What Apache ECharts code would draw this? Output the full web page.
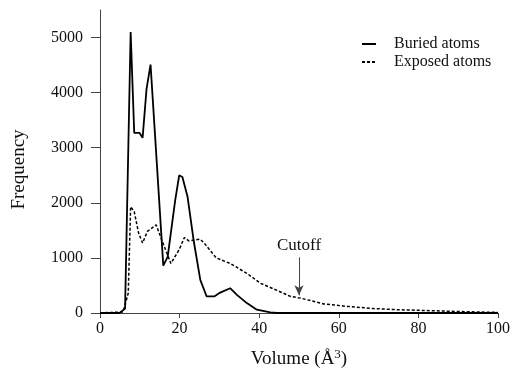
<!DOCTYPE html>
<html>
<head>
<meta charset="utf-8">
<script src="https://cdn.jsdelivr.net/npm/echarts@6/dist/echarts.min.js"></script>
<style>
  html, body { margin: 0; padding: 0; background: #fff; }
  #chart { width: 510px; height: 378px; }
</style>
</head>
<body>
<div id="chart"></div>
<script>
// volume (Å^3) / frequency pairs
const buriedVol = [0, 4.9, 6.3, 7.7, 8.6, 9.9, 10.7, 11.7, 12.7, 13.8, 15.9, 17.0, 18.9, 19.9, 20.7, 22.0, 23.5, 25.2, 26.8, 28.7, 30.2, 32.7, 34.4, 36.9, 39.4, 42.8, 44.5, 100];
const buriedFreq = [0, 0, 80, 5100, 3270, 3270, 3180, 4070, 4510, 3260, 860, 1020, 2050, 2500, 2470, 2110, 1330, 600, 300, 300, 370, 450, 330, 180, 60, 12, 0, 0];

const exposedVol = [0, 5.8, 7.1, 7.7, 8.6, 9.7, 10.7, 11.9, 14.1, 15.5, 17.8, 19.9, 21.2, 22.3, 25.2, 26.4, 29.2, 32.7, 36.9, 40.3, 44.5, 47.9, 50.4, 56.2, 62.1, 68.8, 74.7, 83.1, 91.5, 100];
const exposedFreq = [0, 20, 360, 1930, 1840, 1450, 1270, 1480, 1600, 1330, 900, 1150, 1370, 1310, 1340, 1250, 1000, 900, 720, 540, 410, 300, 270, 165, 120, 80, 60, 42, 24, 10];

const yTicks = [0, 1000, 2000, 3000, 4000, 5000];
const xTicks = [0, 20, 40, 60, 80, 100];
const cutoff = 50;

const FONT = '"Liberation Serif", "DejaVu Serif", serif';
const chart = echarts.init(document.getElementById('chart'));

const pairs = (xs, ys) => xs.map((x, i) => [x, ys[i]]);

chart.setOption({
  animation: false,
  textStyle: { fontFamily: FONT, color: '#111' },
  grid: { left: 100, right: 12, top: 10, bottom: 65, outerBoundsMode: 'none', containLabel: false },
  legend: {
    orient: 'vertical',
    left: 356,
    top: 31,
    itemWidth: 14,
    itemHeight: 10,
    itemGap: 2,
    itemStyle: { opacity: 0 },
    textStyle: { fontFamily: FONT, fontSize: 16, color: '#111', padding: [0, 0, 0, 13] },
    data: ['Buried atoms', 'Exposed atoms']
  },
  xAxis: {
    type: 'value',
    min: 0,
    max: 100,
    interval: 20,
    name: 'Volume (Å{sup|3})',
    nameLocation: 'middle',
    nameGap: 35,
    nameTextStyle: {
      fontFamily: FONT, fontSize: 19, color: '#111',
      rich: { sup: { fontFamily: FONT, fontSize: 13, verticalAlign: 'top', padding: [0, 0, 10, 0] } }
    },
    axisLine: { lineStyle: { color: '#444', width: 1 } },
    axisTick: { length: 5, lineStyle: { color: '#444' }, customValues: xTicks },
    axisLabel: { fontFamily: FONT, fontSize: 16, color: '#111', margin: 8, customValues: xTicks },
    splitLine: { show: false }
  },
  yAxis: {
    type: 'value',
    min: 0,
    max: 5500,
    interval: 500,
    name: 'Frequency',
    nameLocation: 'middle',
    nameGap: 71,
    nameTextStyle: { fontFamily: FONT, fontSize: 19, color: '#111', padding: [0, 16, 0, 0] },
    axisLine: { show: true, lineStyle: { color: '#444', width: 1 } },
    axisTick: { show: true, length: 9, lineStyle: { color: '#444' }, customValues: yTicks },
    axisLabel: {
      fontFamily: FONT, fontSize: 16, color: '#111', margin: 17, customValues: yTicks,
      formatter: (v) => String(v)
    },
    splitLine: { show: false }
  },
  series: [
    {
      name: 'Buried atoms',
      type: 'line',
      symbol: 'none',
      data: pairs(buriedVol, buriedFreq),
      lineStyle: { color: '#000', width: 1.8 },
      itemStyle: { color: '#000' },
      z: 3
    },
    {
      name: 'Exposed atoms',
      type: 'line',
      symbol: 'none',
      data: pairs(exposedVol, exposedFreq),
      lineStyle: { color: '#000', width: 1.5, type: [3, 2] },
      itemStyle: { color: '#000' },
      z: 2,
      markLine: {
        silent: true,
        symbol: ['none', 'arrow'],
        symbolSize: [7, 10],
        lineStyle: { color: '#444', width: 1, type: 'solid' },
        label: {
          show: true,
          position: 'start',
          formatter: 'Cutoff',
          fontFamily: FONT,
          fontSize: 17,
          color: '#111',
          distance: 3
        },
        data: [[{ coord: [cutoff, 1010] }, { coord: [cutoff, 320] }]]
      }
    }
  ]
});
</script>
</body>
</html>
